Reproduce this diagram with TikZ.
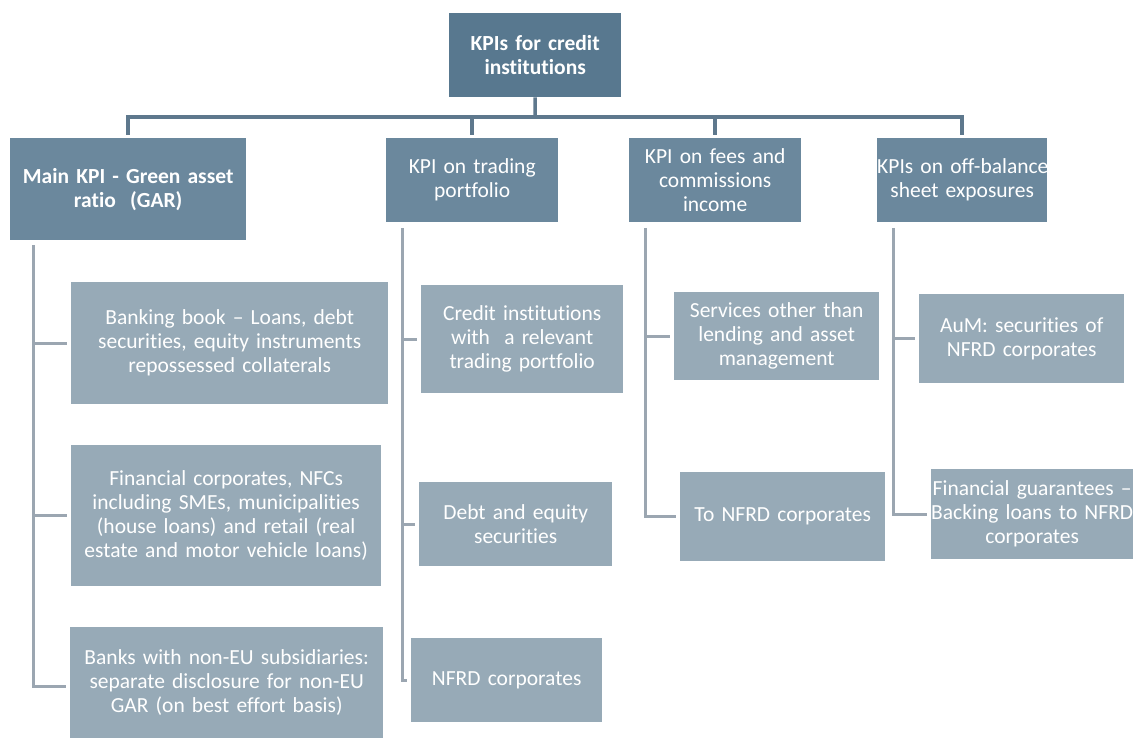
\documentclass[tikz,border=0pt]{standalone}
\usepackage{fontspec}
\setmainfont{Carlito}[Ligatures={NoCommon}]
\definecolor{cTop}{HTML}{58788F}
\definecolor{cMid}{HTML}{6B889D}
\definecolor{cLow}{HTML}{97AAB7}
\definecolor{cBar}{HTML}{5E788D}
\definecolor{cBranch}{HTML}{9BA6B1}
\tikzset{
  box/.style={rectangle, inner sep=0pt, align=center, text=white, anchor=north west,
    font=\fontsize{21.5}{24}\selectfont},
  topbox/.style={box, fill=cTop, font=\bfseries\fontsize{21.5}{24}\selectfont},
  midbox/.style={box, fill=cMid},
  lowbox/.style={box, fill=cLow},
  bar/.style={draw=cBar, line width=3.5pt},
  branch/.style={draw=cBranch, line width=3pt}
}
\begin{document}
\begin{tikzpicture}[x=1pt,y=1pt]
\useasboundingbox (0,0) rectangle (1133,-738);
% top
\node[topbox, minimum width=172pt, minimum height=84pt, text width=170pt] (top) at (449,-13) {KPIs for credit\\institutions};
% level 1
\node[midbox, minimum width=236pt, minimum height=102pt, text width=234pt, font=\bfseries\fontsize{21.5}{24}\selectfont] (main) at (10,-138) {Main KPI - Green asset\\ratio\ \ (GAR)};
\node[midbox, minimum width=172pt, minimum height=84pt, text width=170pt] (trade) at (386,-138) {KPI on trading\\portfolio};
\node[midbox, minimum width=172pt, minimum height=84pt, text width=170pt] (fees) at (629,-138) {KPI on fees and\\commissions\\income};
\node[midbox, minimum width=170pt, minimum height=84pt, text width=170pt] (off) at (877,-138) {\mbox{KPIs on off-balance}\\sheet exposures};
% level 2 - GAR
\node[lowbox, minimum width=317pt, minimum height=122pt, text width=315pt] (bb) at (71,-282) {Banking book -- Loans, debt\\securities, equity instruments\\repossessed collaterals};
\node[lowbox, minimum width=310pt, minimum height=141pt, text width=308pt] (fc) at (71,-445) {Financial corporates, NFCs\\including SMEs, municipalities\\(house loans) and retail (real\\estate and motor vehicle loans)};
\node[lowbox, minimum width=313pt, minimum height=111pt, text width=311pt] (neu) at (70,-627) {Banks with non-EU subsidiaries:\\separate disclosure for non-EU\\GAR (on best effort basis)};
% level 2 - trading
\node[lowbox, minimum width=202pt, minimum height=108pt, text width=200pt] (ci) at (421,-285) {Credit institutions\\with\ \ a relevant\\trading portfolio};
\node[lowbox, minimum width=193pt, minimum height=84pt, text width=190pt] (de) at (419,-482) {Debt and equity\\securities};
\node[lowbox, minimum width=191pt, minimum height=84pt, text width=190pt] (nfrd) at (411,-638) {NFRD corporates};
% level 2 - fees
\node[lowbox, minimum width=205pt, minimum height=88pt, text width=203pt] (svc) at (674,-292) {Services other than\\lending and asset\\management};
\node[lowbox, minimum width=205pt, minimum height=89pt, text width=203pt] (tonfrd) at (680,-472) {To NFRD corporates};
% level 2 - off-balance
\node[lowbox, minimum width=205pt, minimum height=89pt, text width=203pt] (aum) at (919,-294) {AuM: securities of\\NFRD corporates};
\node[lowbox, minimum width=202pt, minimum height=90pt, text width=202pt] (fg) at (931,-469) {Financial guarantees --\\Backing loans to NFRD\\corporates};
% top connectors
\coordinate (bus) at (535,-117);
\draw[bar] (top.south) -- (bus);
\draw[bar] ([yshift=3pt]main.north) |- (bus) -| ([yshift=3pt]off.north);
\draw[bar] ([yshift=3pt]trade.north) -- (trade.north |- bus);
\draw[bar] ([yshift=3pt]fees.north) -- (fees.north |- bus);
% branch: GAR
\coordinate (gv) at (33,-245);
\draw[branch] (gv) |- ([xshift=-4pt]neu.west |- 0,-686);
\draw[branch] (gv |- bb.west) -- ([xshift=-4pt]bb.west);
\draw[branch] (gv |- fc.west) -- ([xshift=-4pt]fc.west);
% branch: trading
\coordinate (tv) at (402,-228);
\draw[branch] (tv) |- ([xshift=-4pt]nfrd.west);
\draw[branch] (tv |- ci.west) -- ([xshift=-4pt]ci.west);
\draw[branch] (tv |- de.west) -- ([xshift=-4pt]de.west);
% branch: fees
\coordinate (fv) at (645,-228);
\draw[branch] (fv) |- ([xshift=-4pt]tonfrd.west);
\draw[branch] (fv |- svc.west) -- ([xshift=-4pt]svc.west);
% branch: off-balance
\coordinate (ov) at (893,-228);
\draw[branch] (ov) |- ([xshift=-4pt]fg.west);
\draw[branch] (ov |- aum.west) -- ([xshift=-4pt]aum.west);
\end{tikzpicture}
\end{document}
